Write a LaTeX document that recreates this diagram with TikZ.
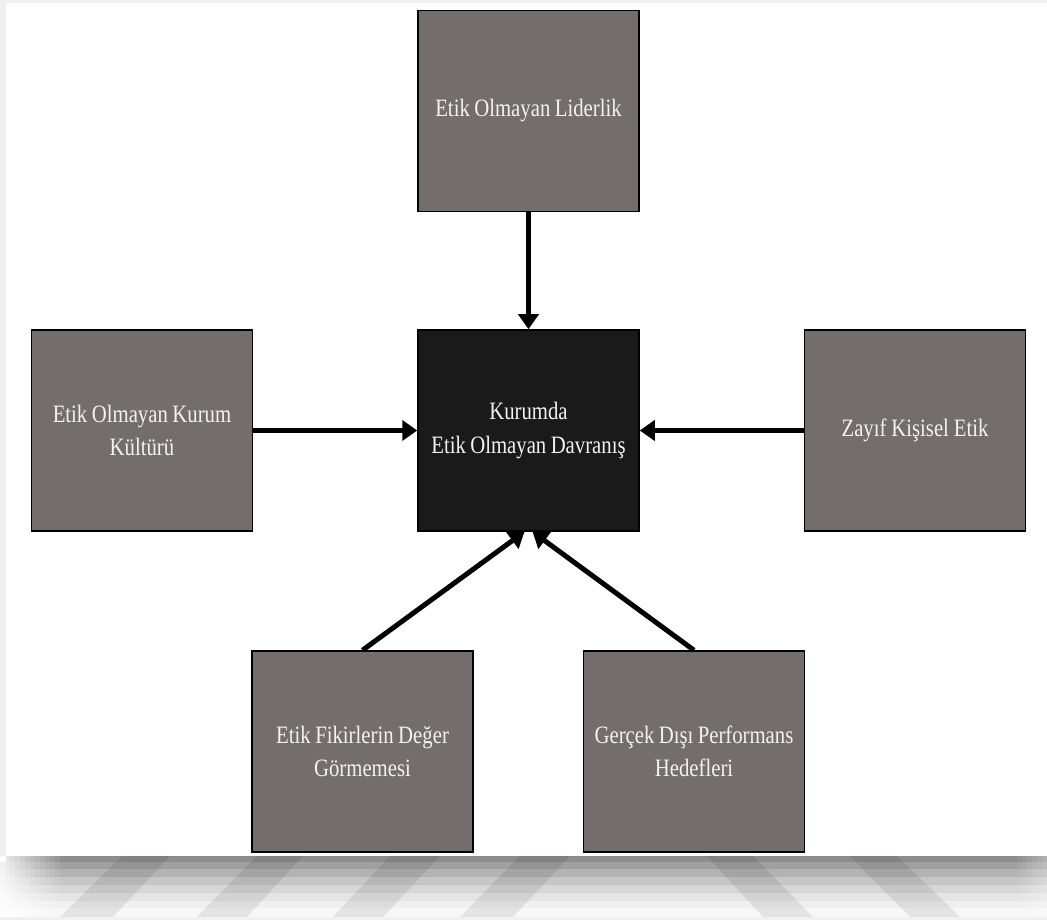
\documentclass[tikz,border=0pt]{standalone}
\usepackage{fontspec}
\setmainfont[FakeStretch=0.83]{Liberation Serif}
\usetikzlibrary{arrows.meta}
\definecolor{boxgray}{RGB}{115,110,108}
\definecolor{boxdark}{RGB}{26,26,26}
\definecolor{labelwhite}{RGB}{242,242,242}
\newcommand{\narrowspaces}{\spaceskip=4.2pt plus 1pt minus 0.5pt\relax}
\begin{document}
\begin{tikzpicture}[x=1pt,y=1pt,
  factor/.style={draw=black, line width=1.5pt, fill=boxgray,
    minimum width=221pt, minimum height=201pt, inner sep=0pt,
    text=labelwhite, align=center, text width=212pt,
    font=\fontsize{25}{33.5}\selectfont,
    execute at begin node=\narrowspaces},
  core/.style={factor, fill=boxdark},
  link/.style={line width=5pt, -{Triangle[length=15pt,width=20pt]}},
  band/.style={draw=none},
  stripe/.style={fill=black, fill opacity=0.08}]

% page frame
\useasboundingbox (0,0) rectangle (1047,920);
\fill[gray!12] (0,0) rectangle (1047,920);
\fill[white] (6,64) rectangle (1047,917);

% graded floor band
\fill[band, fill={rgb,255:red,141;green,141;blue,141}] (6,58) rectangle (1047,64);
\fill[band, fill={rgb,255:red,160;green,160;blue,160}] (0,51) rectangle (1047,58);
\fill[band, fill={rgb,255:red,179;green,179;blue,179}] (0,43) rectangle (1047,51);
\fill[band, fill={rgb,255:red,198;green,198;blue,198}] (0,35) rectangle (1047,43);
\fill[band, fill={rgb,255:red,214;green,214;blue,214}] (0,27) rectangle (1047,35);
\fill[band, fill={rgb,255:red,228;green,228;blue,228}] (0,19) rectangle (1047,27);
\fill[band, fill={rgb,255:red,239;green,239;blue,239}] (0,12) rectangle (1047,19);
\fill[band, fill={rgb,255:red,247;green,247;blue,247}] (0,3) rectangle (1047,12);

% slanted stripes on the floor band
\fill[stripe] (122,64) -- (170,64) -- (113,3) -- (60,3) -- cycle;
\fill[stripe] (257,64) -- (303,64) -- (247,3) -- (197,3) -- cycle;
\fill[stripe] (390,64) -- (440,64) -- (383,3) -- (333,3) -- cycle;
\fill[stripe] (520,64) -- (570,64) -- (513,3) -- (460,3) -- cycle;
\fill[stripe] (707,64) -- (753,64) -- (813,3) -- (763,3) -- cycle;
\fill[stripe] (850,64) -- (897,64) -- (960,3) -- (910,3) -- cycle;

% soft fade at the left end of the band
\foreach \i in {0,...,11}
  \fill[white, fill opacity={0.85-0.07*\i}] (5*\i,3) rectangle (5*\i+5,64);
% soft fade at the right end of the band
\foreach \i in {0,...,5}
  \fill[white, fill opacity={0.05+0.05*\i}] (1017+5*\i,3) rectangle (1022+5*\i,64);

% nodes
\node[core]   (core)  at (528.5,489.5) {Kurumda\\Etik Olmayan Davranış};
\node[factor] (lead)  at (528.5,809)   {Etik Olmayan Liderlik};
\node[factor] (cult)  at (142,489.5)   {Etik Olmayan Kurum\\Kültürü};
\node[factor] (pers)  at (915,489.5)   {Zayıf Kişisel Etik};
\node[factor] (ideas) at (362.5,168.5) {Etik Fikirlerin Değer\\Görmemesi};
\node[factor] (goals) at (694,168.5)   {Gerçek Dışı Performans\\Hedefleri};

% connectors
\draw[link] (lead) -- (core);
\draw[link] (cult) -- (core);
\draw[link] (pers) -- (core);
\draw[link] (ideas.north) -- ([xshift=-4pt]core.south);
\draw[link] (goals.north) -- ([xshift=4pt]core.south);
\end{tikzpicture}
\end{document}
